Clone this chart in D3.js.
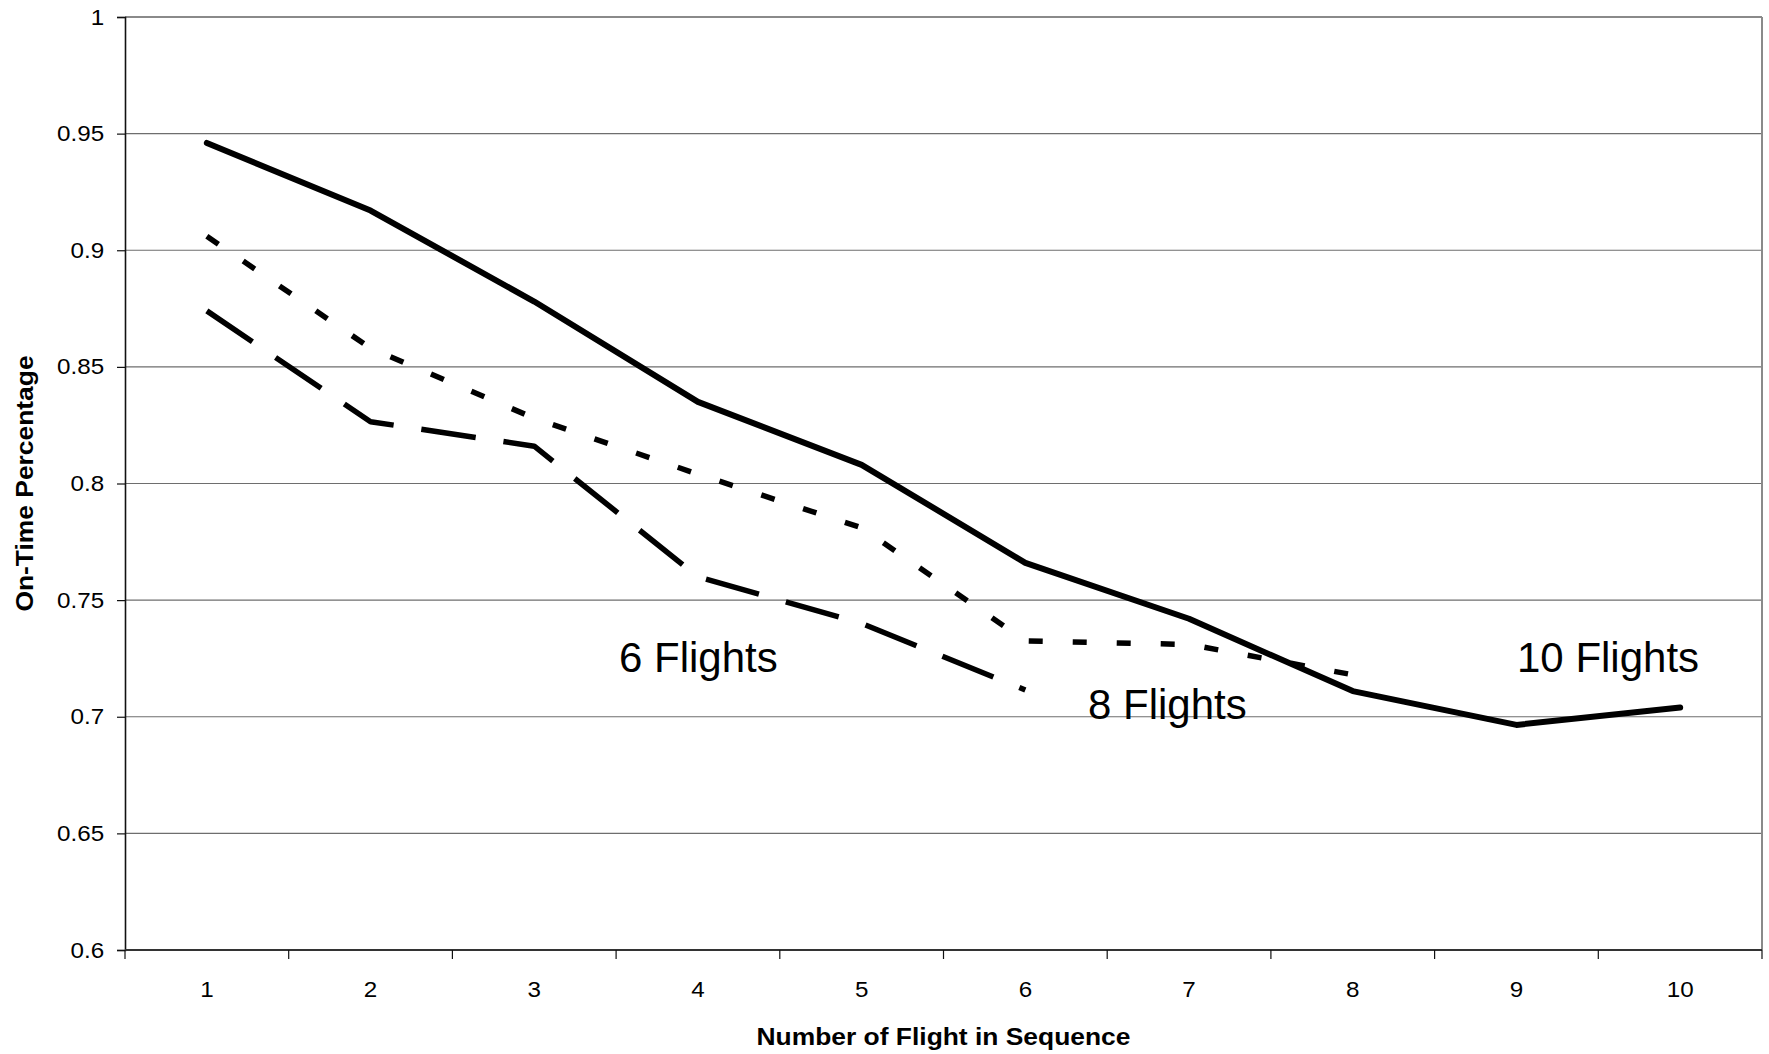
<!DOCTYPE html>
<html>
<head>
<meta charset="utf-8">
<script src="https://cdn.jsdelivr.net/npm/d3@7"></script>
<style>
  html, body { margin: 0; padding: 0; background: #fff; }
  svg { display: block; font-family: Arial, "Liberation Sans", sans-serif; }
</style>
</head>
<body>
<svg id="chart" width="1769" height="1054"></svg>
<script>
const categories = [1, 2, 3, 4, 5, 6, 7, 8, 9, 10];
const tenFlights = [0.946, 0.917, 0.878, 0.835, 0.808, 0.766, 0.742, 0.711, 0.6965, 0.704];
const eightFlights = [0.906, 0.858, 0.828, 0.804, 0.781, 0.7325, 0.731, 0.718];
const sixFlights = [0.874, 0.8265, 0.816, 0.760, 0.740, 0.7115];
const yTicks = [0.6, 0.65, 0.7, 0.75, 0.8, 0.85, 0.9, 0.95, 1];
const seriesLabels = ["6 Flights", "8 Flights", "10 Flights"];
const xTitle = "Number of Flight in Sequence";
const yTitle = "On-Time Percentage";

(function () {
const svg = d3.select("#chart");
const pLeft = 125, pRight = 1762, pTop = 17, pBottom = 950;

const x = d3.scaleBand().domain(categories).range([pLeft, pRight]).padding(0);
const y = d3.scaleLinear().domain([0.6, 1]).range([pBottom, pTop]);
const cx = c => x(c) + x.bandwidth() / 2;

// gridlines
svg.append("g").selectAll("line")
  .data(yTicks.filter(v => v > 0.6 && v < 1))
  .join("line")
  .attr("x1", pLeft).attr("x2", pRight)
  .attr("y1", d => y(d)).attr("y2", d => y(d))
  .attr("stroke", "#6e6e6e").attr("stroke-width", 1.2);

// plot frame top/right (gray)
svg.append("line").attr("x1", pLeft).attr("x2", pRight).attr("y1", y(1)).attr("y2", y(1))
  .attr("stroke", "#8a8a8a").attr("stroke-width", 2);
svg.append("line").attr("x1", pRight).attr("x2", pRight).attr("y1", pTop).attr("y2", pBottom)
  .attr("stroke", "#8a8a8a").attr("stroke-width", 2);

// Y axis
const yAxis = d3.axisLeft(y).tickValues(yTicks).tickFormat(d => String(+d.toFixed(2))).tickSize(8).tickPadding(14);
const gy = svg.append("g").attr("transform", `translate(${pLeft},0)`).call(yAxis);
gy.select(".domain").attr("stroke", "#111").attr("stroke-width", 1.6);
gy.selectAll(".tick line").attr("stroke", "#111").attr("stroke-width", 1.2);
gy.selectAll(".tick text").attr("font-size", 22).attr("fill", "#000")
  .attr("font-family", "Arial, 'Liberation Sans', sans-serif")
  .attr("transform", "scale(1.1,1)").attr("x", -22 / 1.1 + 1);

// X axis with ticks at category boundaries
const gx = svg.append("g");
gx.append("line").attr("x1", pLeft).attr("x2", pRight).attr("y1", pBottom).attr("y2", pBottom)
  .attr("stroke", "#333").attr("stroke-width", 2);
const boundaries = categories.map(c => x(c)).concat([x(categories[categories.length - 1]) + x.bandwidth()]);
gx.selectAll("line.tk").data(boundaries).join("line").attr("class", "tk")
  .attr("x1", d => d).attr("x2", d => d).attr("y1", pBottom).attr("y2", pBottom + 9)
  .attr("stroke", "#111").attr("stroke-width", 1.2);
gx.selectAll("text").data(categories).join("text")
  .attr("transform", d => `translate(${cx(d)},997) scale(1.1,1)`)
  .attr("text-anchor", "middle").attr("font-size", 22).attr("fill", "#000")
  .text(d => d);

// series lines
const line = d3.line().x((d, i) => cx(categories[i])).y(d => y(d));
svg.append("path").datum(sixFlights).attr("d", line)
  .attr("fill", "none").attr("stroke", "#000").attr("stroke-width", 5.5)
  .attr("stroke-dasharray", "55,28").attr("stroke-linejoin", "round");
svg.append("path").datum(eightFlights).attr("d", line)
  .attr("fill", "none").attr("stroke", "#000").attr("stroke-width", 5.5)
  .attr("stroke-dasharray", "14,30").attr("stroke-linejoin", "round");
svg.append("path").datum(tenFlights).attr("d", line)
  .attr("fill", "none").attr("stroke", "#000").attr("stroke-width", 6)
  .attr("stroke-linejoin", "round").attr("stroke-linecap", "round");

// series labels
const labelPos = [[619, 672], [1088, 719], [1517, 672]];
svg.append("g").selectAll("text").data(seriesLabels).join("text")
  .attr("x", (d, i) => labelPos[i][0]).attr("y", (d, i) => labelPos[i][1])
  .attr("font-size", 42).attr("fill", "#000").text(d => d);

// axis titles
svg.append("text").attr("transform", `translate(943.5,1045) scale(1.1,1)`)
  .attr("text-anchor", "middle").attr("font-size", 24).attr("font-weight", "bold")
  .text(xTitle);
svg.append("text").attr("transform", `translate(33,${(pTop + pBottom) / 2}) rotate(-90) scale(1.1,1)`)
  .attr("text-anchor", "middle").attr("font-size", 24).attr("font-weight", "bold")
  .text(yTitle);
})();
</script>
</body>
</html>
